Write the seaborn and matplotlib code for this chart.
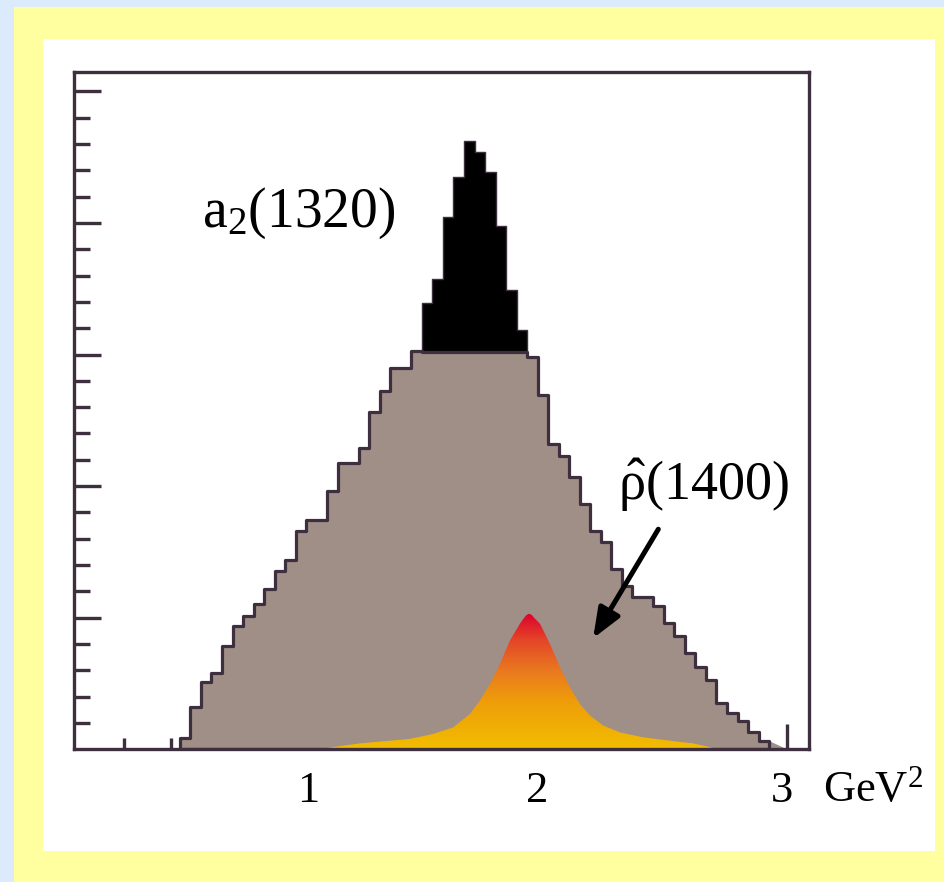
import numpy as np
import pandas as pd
import matplotlib
matplotlib.use('Agg')
import matplotlib.pyplot as plt
import seaborn as sns
from matplotlib.colors import LinearSegmentedColormap
from matplotlib.patches import Rectangle
from matplotlib.ticker import FixedLocator

# --- DADOS ---

# Bins do histograma (GeV^2)
inicio_bins = 0.4376
largura_bin = 0.04439
n_bins = 56

# Alturas do fundo (cinza): subida, platô sob o a2, descida
altura_cinza_esq = [0.85, 3.18, 5.08, 5.80, 7.88, 9.40, 10.14, 11.0, 12.14, 13.51,
                    14.40, 16.58, 17.44, 17.44, 19.62, 21.75, 21.75, 22.89, 25.63,
                    27.21, 29.01, 29.01, 30.25]
altura_cinza_pico = [30.17, 30.17, 30.17, 30.17, 30.17, 30.17, 30.17, 30.17, 30.17, 30.17]
altura_cinza_dir = [29.8, 26.9, 23.2, 22.3, 20.7, 18.6, 16.55, 15.74, 13.7, 12.37,
                    11.55, 11.55, 10.92, 9.57, 8.64, 7.32, 6.28, 5.27, 3.49, 2.72,
                    2.17, 1.28, 0.65]

# Pico do a2(1320) (altura total, desenhado em preto)
altura_a2 = [33.88, 35.71, 40.47, 43.52, 46.26, 45.42, 43.9, 39.76, 34.89, 31.85]

# Cauda final do fundo, sem contorno
cauda_x = [2.923, 3.0]
cauda_y = [0.65, 0.0]

# Curva do rho(1400)
rho_x = [1.00, 1.070, 1.197, 1.408, 1.506, 1.591, 1.661, 1.703, 1.746, 1.788, 1.830,
         1.872, 1.888, 1.900, 1.911, 1.922, 1.934, 1.957, 1.999, 2.041, 2.083, 2.125,
         2.168, 2.224, 2.294, 2.392, 2.561, 2.603, 2.709]
rho_y = [0.0, 0.12, 0.44, 0.78, 1.16, 1.66, 2.68, 3.69, 4.96, 6.48, 8.26,
         9.53, 9.95, 10.2, 10.3, 10.2, 9.95, 9.53, 8.0, 6.23, 4.70, 3.44,
         2.55, 1.79, 1.28, 0.90, 0.52, 0.44, 0.0]

rotulos_x = ['1', '2', '3']
pos_rotulos_x = [0.978, 1.946, 2.977]

# Cores
cor_azul = '#dcebfb'
cor_amarelo = '#ffffa0'
cor_cinza = '#a08f87'
cor_contorno = '#3e2f3e'


def desenhar_histogramas(ax, bordas):
    centros = [(a + b) / 2 for a, b in zip(bordas[:-1], bordas[1:])]
    alturas_cinza = altura_cinza_esq + altura_cinza_pico + altura_cinza_dir

    # a2 em preto (por baixo, o cinza cobre a parte de baixo)
    df_a2 = pd.DataFrame({'s': centros[23:33], 'eventos': altura_a2})
    sns.histplot(data=df_a2, x='s', weights='eventos', bins=bordas[23:34],
                 element='step', fill=True, color='black', edgecolor=cor_contorno,
                 linewidth=1.0, alpha=1, ax=ax, zorder=1)

    df_cinza = pd.DataFrame({'s': centros, 'eventos': alturas_cinza})
    sns.histplot(data=df_cinza, x='s', weights='eventos', bins=bordas,
                 element='step', fill=True, color=cor_cinza, edgecolor=cor_contorno,
                 linewidth=2.3, alpha=1, ax=ax, zorder=1.5)

    ax.fill_between(cauda_x, cauda_y, 0, color=cor_cinza, linewidth=0, zorder=1.4)


def desenhar_rho(ax):
    cmap = LinearSegmentedColormap.from_list(
        'rho', [(0.0, '#f2bd00'), (0.35, '#ee9d0a'), (0.58, '#e9781f'),
                (0.8, '#e44628'), (1.0, '#dc002e')])
    poligono = ax.fill(rho_x, rho_y, facecolor='none', edgecolor='none')[0]
    gradiente = np.linspace(0, 1, 256).reshape(-1, 1)
    im = ax.imshow(gradiente, cmap=cmap, origin='lower', aspect='auto',
                   extent=[min(rho_x), max(rho_x), 0, max(rho_y)], zorder=2)
    im.set_clip_path(poligono)


def main():
    sns.set_theme(style='ticks')
    plt.rcParams['font.family'] = ['Liberation Serif', 'DejaVu Serif']
    plt.rcParams['text.color'] = 'black'
    plt.rcParams['mathtext.fontset'] = 'custom'
    plt.rcParams['mathtext.rm'] = 'Liberation Serif'
    plt.rcParams['mathtext.it'] = 'Liberation Serif:italic'
    plt.rcParams['mathtext.default'] = 'regular'

    fig = plt.figure(figsize=(9.45, 8.82), dpi=100, facecolor=cor_azul)
    fig.add_artist(Rectangle((0.0148, 0), 1, 0.992, transform=fig.transFigure,
                             facecolor=cor_amarelo, edgecolor='none', zorder=0))
    fig.add_artist(Rectangle((0.0458, 0.0355), 0.9436, 0.9199, transform=fig.transFigure,
                             facecolor='white', edgecolor='none', zorder=0))

    ax = fig.add_axes([0.0786, 0.1506, 0.7778, 0.7681])
    ax.set_facecolor('white')

    bordas = [round(inicio_bins + largura_bin * i, 5) for i in range(n_bins + 1)]
    desenhar_histogramas(ax, bordas)
    desenhar_rho(ax)

    ax.set_xlim(-0.008, 3.093)
    ax.set_ylim(0, 51.5)

    # Eixos e marcas
    for lado in ['left', 'right', 'top', 'bottom']:
        ax.spines[lado].set_linewidth(2.4)
        ax.spines[lado].set_color(cor_contorno)
        ax.spines[lado].set_zorder(3)

    ax.xaxis.set_major_locator(FixedLocator([1, 2, 3]))
    ax.xaxis.set_minor_locator(FixedLocator([0.2, 0.4, 0.6, 0.8, 1.2, 1.4, 1.6, 1.8,
                                             2.2, 2.4, 2.6, 2.8]))
    ax.yaxis.set_major_locator(FixedLocator([10, 20, 30, 40, 50]))
    ax.yaxis.set_minor_locator(FixedLocator([y for y in range(2, 52, 2) if y % 10]))
    ax.tick_params(which='both', direction='in', color=cor_contorno, width=2.4,
                   top=False, right=False, labelbottom=False, labelleft=False)
    ax.tick_params(axis='x', which='major', length=18)
    ax.tick_params(axis='x', which='minor', length=8)
    ax.tick_params(axis='y', which='major', length=19.7)
    ax.tick_params(axis='y', which='minor', length=11.3)
    ax.set_xlabel('')
    ax.set_ylabel('')

    # Rótulos do eixo x
    trans = ax.get_xaxis_transform()
    for pos, rotulo in zip(pos_rotulos_x, rotulos_x):
        ax.text(pos, -0.0775, rotulo, transform=trans, fontsize=32,
                ha='center', va='baseline')
    ax.text(3.152, -0.0775, r'GeV$^2$', transform=trans, fontsize=32,
            ha='left', va='baseline', clip_on=False)

    # Anotações
    ax.text(0.529, 39.73, r'a$_2$(1320)', fontsize=40, va='baseline')
    ax.text(2.285, 18.95, r'$\hat{\rho}$(1400)', fontsize=39, va='baseline')
    ax.annotate('', xy=(2.181, 8.43), xytext=(2.456, 16.72),
                arrowprops=dict(arrowstyle='-|>,head_length=0.5,head_width=0.2',
                                lw=3.6, color='black', mutation_scale=36,
                                shrinkA=0, shrinkB=0), zorder=4)

    fig.savefig('out.png', dpi=100, facecolor=fig.get_facecolor())
    plt.close(fig)


if __name__ == "__main__":
    main()
